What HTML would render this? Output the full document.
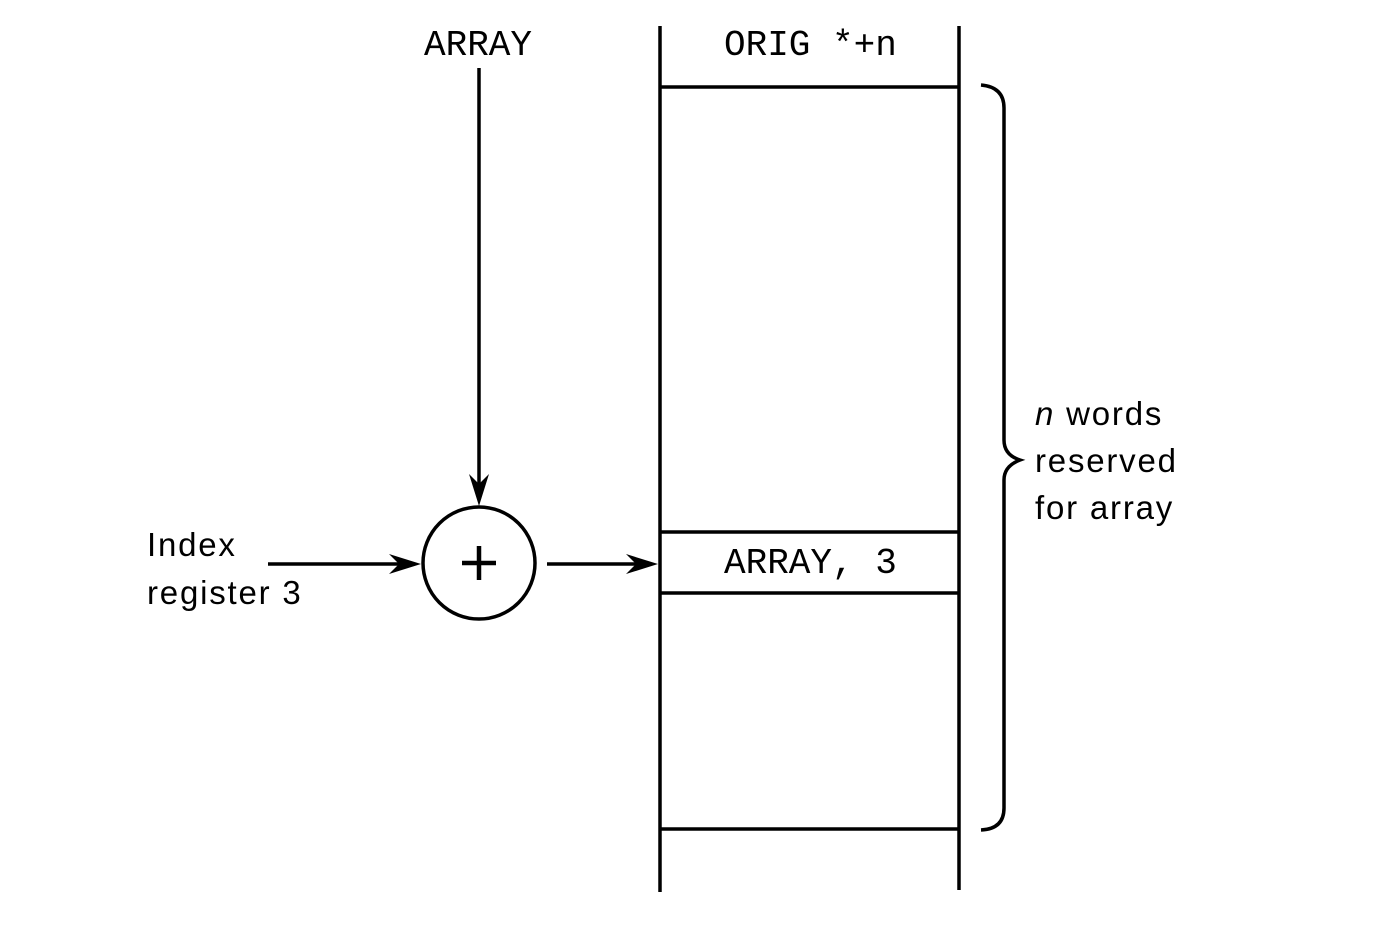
<!DOCTYPE html>
<html><head><meta charset="utf-8"><style>
html,body{margin:0;padding:0;background:#fff;}
svg{display:block;}
.m{font-family:"Liberation Mono",monospace;font-size:36px;fill:#000;}
.s{font-family:"Liberation Sans",sans-serif;font-size:33px;letter-spacing:1.8px;fill:#000;}
</style></head><body>
<svg width="1385" height="948" viewBox="0 0 1385 948" xmlns="http://www.w3.org/2000/svg">
<g stroke="#000" stroke-width="3.5" fill="none">
<line x1="660" y1="26" x2="660" y2="892"/>
<line x1="959" y1="26" x2="959" y2="890"/>
<line x1="660" y1="87" x2="959" y2="87"/>
<line x1="660" y1="532" x2="959" y2="532"/>
<line x1="660" y1="593" x2="959" y2="593"/>
<line x1="660" y1="829" x2="959" y2="829"/>
<line x1="479" y1="68" x2="479" y2="490"/>
<circle cx="479" cy="563" r="56"/>
<line x1="462" y1="563" x2="496" y2="563" stroke-width="4.5"/>
<line x1="479" y1="546" x2="479" y2="580" stroke-width="4.5"/>
<line x1="268" y1="564" x2="405" y2="564"/>
<line x1="547" y1="564" x2="645" y2="564"/>
<path d="M981 85 Q1004 87 1004 108 L1004 440 Q1004 455 1020 460 Q1004 466 1004 480 L1004 808 Q1004 829 981 830"/>
</g>
<g fill="#000">
<polygon points="479,506 469,474 479,484 489,474"/>
<polygon points="421,564 389,554 399,564 389,574"/>
<polygon points="658,564 626,554 636,564 626,574"/>
</g>
<text class="m" x="424" y="55">ARRAY</text>
<text class="m" x="724" y="55">ORIG *+n</text>
<text class="m" x="724" y="573">ARRAY, 3</text>
<text class="s" x="147" y="556">Index</text>
<text class="s" x="147" y="604">register 3</text>
<text class="s" x="1035" y="425"><tspan font-style="italic">n</tspan> words</text>
<text class="s" x="1035" y="472">reserved</text>
<text class="s" x="1035" y="519">for array</text>
</svg>
</body></html>
